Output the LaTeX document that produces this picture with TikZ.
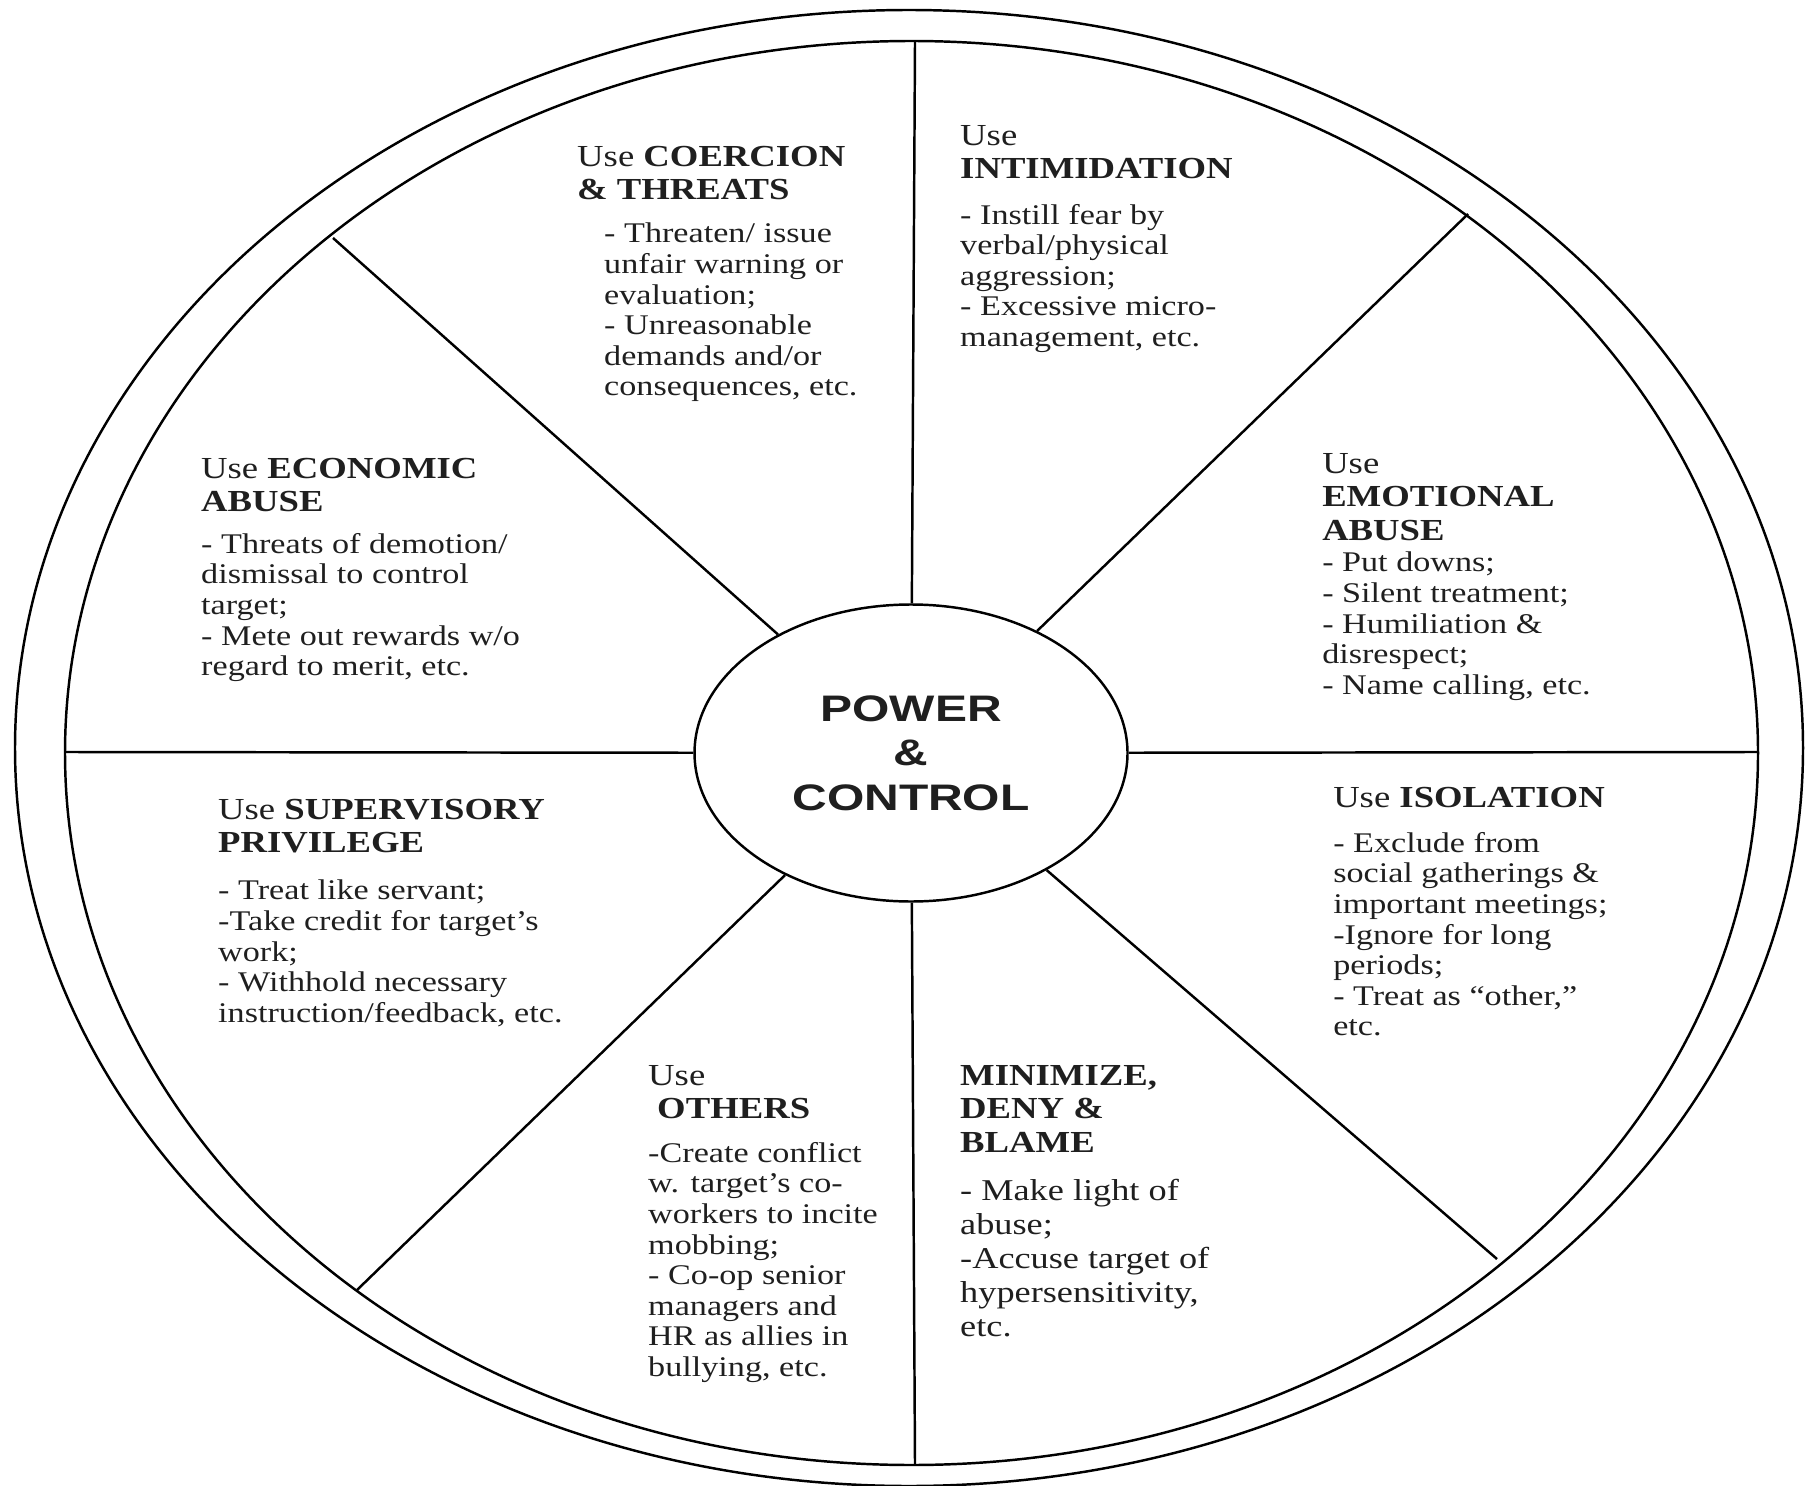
\documentclass[tikz,border=0pt]{standalone}
\usepackage{fontspec}
\setmainfont{Liberation Serif}[FakeStretch=1.2]
\newfontfamily\hubfont{Liberation Sans}[FakeStretch=1.3]
\usetikzlibrary{shapes.geometric}

\newcommand{\bodysize}{\fontsize{8.1}{8.7}\selectfont}
\newcommand{\bigbodysize}{\fontsize{8.6}{9.7}\selectfont}
\newcommand{\headsize}{\fontsize{8.7}{9.5}\selectfont}

\begin{document}
\begin{tikzpicture}[
		x=0.1mm, y=-0.1mm,
		line width=0.7pt,
		every node/.style={inner sep=0pt, anchor=north west, align=left, text=black!88},
		head/.style={font=\headsize},
		body/.style={font=\bodysize},
		hub/.style={ellipse, draw, anchor=center, align=center, minimum width=43.3mm, minimum height=29.7mm, font=\hubfont\bfseries\fontsize{10.5}{12.7}\selectfont}
	]
  \useasboundingbox (0, 0) rectangle (1812, 1486);
  \draw (909, 748) ellipse [x radius=89.4mm, y radius=73.8mm];
  \draw (911.5, 753) ellipse [x radius=84.65mm, y radius=71.2mm];

  \node (hub) [hub] at (911, 753) {POWER\\\&\\CONTROL};

  \coordinate (rim_n) at (915, 41);
  \coordinate (rim_s) at (915, 1465);
  \coordinate (rim_w) at (65, 752);
  \coordinate (rim_e) at (1758, 752);
  \coordinate (rim_nw) at (333, 238);
  \coordinate (rim_ne) at (1468, 214);
  \coordinate (rim_sw) at (357, 1290);
  \coordinate (rim_se) at (1497, 1259);
  \foreach \r in {n, ne, e, se, s, sw, w, nw}
    \draw (hub) -- (rim_\r);

  \node (coerce_hd) [head] at (576, 145) {Use \textbf{COERCION}\\\textbf{\& THREATS}};
  \node (coerce_txt) [body] at (603, 222) {- Threaten/ issue\\unfair warning or\\evaluation;\\- Unreasonable\\demands and/or\\consequences, etc.};

  \node (intim_hd) [head] at (959, 124) {Use\\\textbf{INTIMIDATION}};
  \node (intim_txt) [body] at (959, 203) {- Instill fear by\\verbal/physical\\aggression;\\- Excessive micro-\\management, etc.};

  \node (econ_hd) [head] at (200, 457) {Use \textbf{ECONOMIC}\\\textbf{ABUSE}};
  \node (econ_txt) [body] at (200, 532) {- Threats of demotion/\\dismissal to control\\target;\\- Mete out rewards w/o\\regard to merit, etc.};

  \node (emo_hd) [head] at (1321, 452) {Use\\\textbf{EMOTIONAL}\\\textbf{ABUSE}};
  \node (emo_txt) [body] at (1321, 551) {- Put downs;\\- Silent treatment;\\- Humiliation \&\\disrespect;\\- Name calling, etc.};

  \node (super_hd) [head] at (217, 798) {Use \textbf{SUPERVISORY}\\\textbf{PRIVILEGE}};
  \node (super_txt) [body] at (217, 879) {- Treat like servant;\\-Take credit for target’s\\work;\\- Withhold necessary\\instruction/feedback, etc.};

  \node (iso_hd) [head] at (1332, 786) {Use \textbf{ISOLATION}};
  \node (iso_txt) [body] at (1332, 831) {- Exclude from\\social gatherings \&\\important meetings;\\-Ignore for long\\periods;\\- Treat as “other,”\\etc.};

  \node (others_hd) [head] at (647, 1064) {Use\\\hspace*{0.9mm}\textbf{OTHERS}};
  \node (others_txt) [body] at (647, 1141) {-Create conflict\\w. target’s co-\\workers to incite\\mobbing;\\- Co-op senior\\managers and\\HR as allies in\\bullying, etc.};

  \node (minim_hd) [head] at (959, 1064) {\textbf{MINIMIZE,}\\\textbf{DENY \&}\\\textbf{BLAME}};
  \node (minim_txt) [body, font=\bigbodysize] at (959, 1178) {- Make light of\\abuse;\\-Accuse target of\\hypersensitivity,\\etc.};
\end{tikzpicture}
\end{document}
